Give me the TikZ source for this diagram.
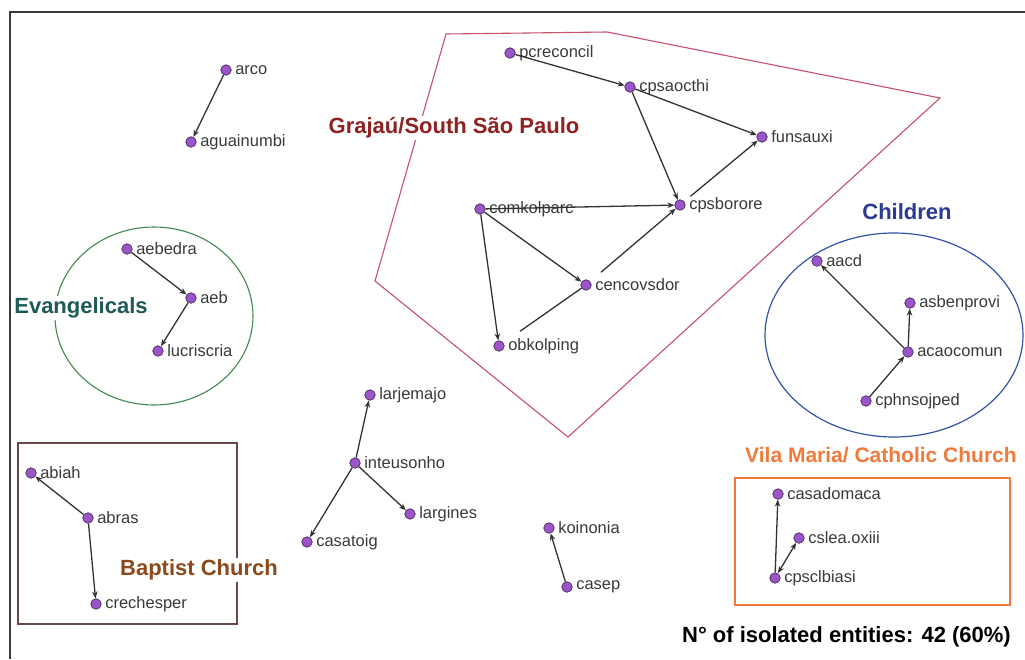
\documentclass[tikz,border=0pt]{standalone}
\usepackage{fontspec}
\setmainfont{Liberation Sans}
\usetikzlibrary{arrows.meta}
\definecolor{dotfill}{HTML}{9B55C8}
\definecolor{dotedge}{HTML}{4A2A60}
\definecolor{labgray}{HTML}{3A3A3A}
\definecolor{linkgray}{HTML}{333333}
\definecolor{framegray}{HTML}{3A3A3A}
\definecolor{grajred}{HTML}{8E2222}
\definecolor{polyred}{HTML}{C8506A}
\definecolor{childblue}{HTML}{2B3A92}
\definecolor{ellblue}{HTML}{3352A8}
\definecolor{evteal}{HTML}{1E5A56}
\definecolor{evgreen}{HTML}{3E8A50}
\definecolor{baptbrown}{HTML}{8A4A1C}
\definecolor{baptbox}{HTML}{6A4848}
\definecolor{vilaorange}{HTML}{F07A3C}
\newcommand\entity[3]{%
  \node[ent] (#1) at (#2) {};
  \node[lab] (#1-l) at ([xshift=2.5pt]#1.east) {#3};}
\tikzset{
  ent/.style={circle, fill=dotfill, draw=dotedge, line width=0.7pt, inner sep=0pt, minimum size=10.5pt},
  lab/.style={anchor=west, font=\fontsize{16.5}{16.5}\selectfont, text=labgray, inner sep=1pt},
  link/.style={draw=linkgray, line width=1.3pt, -{Stealth[length=7pt,width=5.5pt]}},
  grp/.style={font=\bfseries\fontsize{22}{22}\selectfont, inner sep=2pt, fill=white}
}
\begin{document}
\begin{tikzpicture}[x=1pt,y=-1pt]
\useasboundingbox (0,0) rectangle (1025,659);
\fill[white] (0,0) rectangle (1025,659);
% outer frame
\draw[framegray, line width=1.6pt] (1025,12) -- (10,12) -- (10,659);

% group outlines
\draw[polyred, line width=1.1pt] (446,34) -- (607,32) -- (940,98) -- (568,437) -- (375,281) -- cycle;
\draw[evgreen, line width=1.1pt] (154,316) ellipse [x radius=99pt, y radius=89pt];
\draw[ellblue, line width=1.2pt] (894,335) ellipse [x radius=129pt, y radius=102pt];
\draw[baptbox, line width=1.6pt] (18,443) rectangle (237,624);
\draw[vilaorange, line width=2pt] (735,478) rectangle (1010,605);

% group labels
\node[grp, text=grajred] (lgraj) at (454,128) {Grajaú/South São Paulo};
\node[grp, text=evteal] (levan) at (81,308) {Evangelicals};
\node[grp, text=childblue, fill=none] (lchild) at (907,212) {Children};
\node[grp, text=baptbrown] (lbapt) at (199,570) {Baptist Church};
\node[grp, text=vilaorange, anchor=west, font=\bfseries\fontsize{21}{21}\selectfont, inner sep=1pt] (lvila) at (744,455) {Vila Maria/ Catholic Church};
\node[grp, text=black, anchor=east, fill=none] (liso) at (1013,637) {N° of isolated entities: 42 (60\%)};

% entities
\entity{arco}{226,70}{arco}
\entity{aguainumbi}{191,142}{aguainumbi}
\entity{pcreconcil}{510,53}{pcreconcil}
\entity{cpsaocthi}{630,87}{cpsaocthi}
\entity{funsauxi}{762,137}{funsauxi}
\entity{cpsborore}{680,205}{cpsborore}
\entity{comkolparc}{480,209}{comkolparc}
\entity{cencovsdor}{586,285}{cencovsdor}
\entity{obkolping}{499,346}{obkolping}
\entity{aebedra}{127,249}{aebedra}
\entity{aeb}{191,298}{aeb}
\entity{lucriscria}{158,351}{lucriscria}
\entity{aacd}{817,261}{aacd}
\entity{asbenprovi}{910,303}{asbenprovi}
\entity{acaocomun}{908,352}{acaocomun}
\entity{cphnsojped}{866,401}{cphnsojped}
\entity{larjemajo}{370,395}{larjemajo}
\entity{inteusonho}{355,463}{inteusonho}
\entity{largines}{410,514}{largines}
\entity{casatoig}{307,542}{casatoig}
\entity{koinonia}{549,528}{koinonia}
\entity{casep}{567,587}{casep}
\entity{abiah}{31,473}{abiah}
\entity{abras}{88,518}{abras}
\entity{crechesper}{96,604}{crechesper}
\entity{casadomaca}{778,494}{casadomaca}
\entity{csleaoxiii}{799,538}{cslea.oxiii}
\entity{cpsclbiasi}{775,578}{cpsclbiasi}

% links
\draw[link] (arco) -- (aguainumbi);
\draw[link] (pcreconcil) -- (cpsaocthi);
\draw[link] (cpsaocthi) -- (funsauxi);
\draw[link] (cpsaocthi) -- (cpsborore);
\draw[link, shorten <=8pt] (cpsborore) -- (funsauxi);
\draw[link] (comkolparc) -- (cpsborore);
\draw[link] (comkolparc) -- (cencovsdor);
\draw[link] (comkolparc) -- (obkolping);
\draw[link, shorten <=14pt] (cencovsdor) -- (cpsborore);
\draw[draw=linkgray, line width=1.3pt, shorten <=20pt] (obkolping) -- (cencovsdor);
\draw[link] (aebedra) -- (aeb);
\draw[link] (aeb) -- (lucriscria);
\draw[link] (acaocomun) -- (aacd);
\draw[link] (acaocomun) -- (asbenprovi);
\draw[link] (cphnsojped) -- (acaocomun);
\draw[link] (inteusonho) -- (larjemajo);
\draw[link] (inteusonho) -- (largines);
\draw[link] (inteusonho) -- (casatoig);
\draw[link] (casep) -- (koinonia);
\draw[link] (abras) -- (abiah);
\draw[link] (abras) -- (crechesper);
\draw[link] (cpsclbiasi) -- (casadomaca);
\draw[link, {Stealth[length=7pt,width=5.5pt]}-{Stealth[length=7pt,width=5.5pt]}] (cpsclbiasi) -- (csleaoxiii);
\end{tikzpicture}
\end{document}
